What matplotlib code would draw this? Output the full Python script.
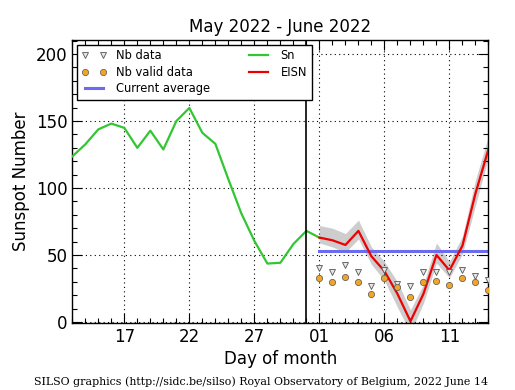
"""
Daily sunspot number, last month plus current month (SILSO style).
"""
import datetime as dt
import matplotlib
matplotlib.use("Agg")
import matplotlib.pyplot as plt
import matplotlib.dates as mdates
from matplotlib.ticker import MultipleLocator

# Sn, daily values 13 May .. 1 June 2022
sn_dates = [dt.date(2022, 5, d) for d in range(13, 32)] + [dt.date(2022, 6, 1)]
sn = [123.6, 132.6, 143.8, 148.1, 144.9, 130.0, 142.8, 128.8, 150.0, 159.8,
      141.2, 133.0, 106.5, 81.0, 60.5, 43.6, 44.2, 58.2, 68.0, 63.0]

# EISN and its error band, 1 .. 14 June 2022
eisn_dates = [dt.date(2022, 6, d) for d in range(1, 15)]
eisn = [63.0, 61.0, 57.5, 68.0, 49.0, 38.0, 21.0, 0.5, 21.0, 50.0, 38.5, 57.0, 96.0, 129.0]
eisn_hi = [72.0, 70.0, 66.0, 76.0, 56.0, 45.0, 30.0, 9.0, 28.0, 59.0, 45.0, 64.0, 106.0, 139.0]
eisn_lo = [59.0, 56.0, 52.0, 62.0, 43.0, 31.0, 11.0, -8.0, 14.0, 44.0, 33.0, 51.0, 87.0, 123.0]
nb_data = [40.2, 37.5, 42.7, 37.5, 27.0, 39.0, 28.2, 27.0, 37.0, 37.5, 37.5, 39.0, 34.2, 31.2]
nb_valid = [32.7, 30.2, 33.7, 29.5, 21.2, 32.5, 26.2, 18.7, 30.2, 30.7, 27.7, 32.5, 29.5, 24.0]
current_avg = 53.0

tick_dates = [dt.date(2022, 5, 17), dt.date(2022, 5, 22), dt.date(2022, 5, 27),
              dt.date(2022, 6, 1), dt.date(2022, 6, 6), dt.date(2022, 6, 11)]

plt.rcParams["font.family"] = ["DejaVu Sans"]
plt.rcParams["xtick.direction"] = "in"
plt.rcParams["ytick.direction"] = "in"

fig = plt.figure(figsize=(5.15, 3.9), dpi=100)
ax = fig.add_axes([0.1404, 0.171, 0.8081, 0.7264])

ax.fill_between(eisn_dates, eisn_lo, eisn_hi, color="#cdcdcd", lw=0, zorder=1)
ax.plot(sn_dates, sn, color="#33c633", lw=1.6, label="Sn", zorder=3)
ax.plot(eisn_dates, eisn, color="#ee0000", lw=1.6, label="EISN", zorder=4)
ax.plot([eisn_dates[0], dt.date(2022, 6, 14)], [current_avg, current_avg],
        color="#6b6bf0", lw=2.2, label="Current average", zorder=2)
ax.plot(eisn_dates, nb_data, ls="none", marker="v", ms=4.2, mfc="#e6e6e6",
        mec="#555555", mew=0.6, label="Nb data", zorder=5)
ax.plot(eisn_dates, nb_valid, ls="none", marker="o", ms=4.5, mfc="#f0a526",
        mec="#555555", mew=0.5, label="Nb valid data", zorder=5)
ax.axvline(dt.date(2022, 5, 31), color="black", lw=1.2, zorder=6)

ax.set_xlim(dt.date(2022, 5, 13), dt.date(2022, 6, 14))
ax.set_ylim(-1, 210.5)
ax.set_xticks(tick_dates)
ax.xaxis.set_major_formatter(mdates.DateFormatter("%d"))
ax.xaxis.set_minor_locator(mdates.DayLocator())
ax.yaxis.set_major_locator(MultipleLocator(50))
ax.yaxis.set_minor_locator(MultipleLocator(10))
ax.tick_params(which="both", top=True, right=True, labelsize=12)
ax.tick_params(which="major", length=7, width=0.8)
ax.tick_params(which="minor", length=3.5, width=0.8)
ax.grid(True, which="major", color="black", ls=(0, (1, 3)), lw=0.8)
for s in ax.spines.values():
    s.set_linewidth(1.0)

ax.set_title("May 2022 - June 2022", fontsize=12, pad=6)
ax.set_xlabel("Day of month", fontsize=12, labelpad=3)
ax.set_ylabel("Sunspot Number", fontsize=12, labelpad=4)

h, l = ax.get_legend_handles_labels()
order = [l.index(k) for k in ["Nb data", "Nb valid data", "Current average", "Sn", "EISN"]]
leg = ax.legend([h[i] for i in order], [l[i] for i in order], loc="upper left",
                ncol=2, numpoints=2, fontsize=8.3, fancybox=False, framealpha=1,
                edgecolor="black", borderaxespad=0.4, columnspacing=3.1,
                handlelength=2.2, labelspacing=0.3, borderpad=0.4)
leg.get_frame().set_linewidth(1.0)
leg.set_zorder(10)

fig.text(0.506, 0.021, "SILSO graphics (http://sidc.be/silso) Royal Observatory of Belgium, 2022 June 14",
         ha="center", va="center", fontsize=7.95, family="DejaVu Serif")

fig.savefig("out.png", dpi=100)
